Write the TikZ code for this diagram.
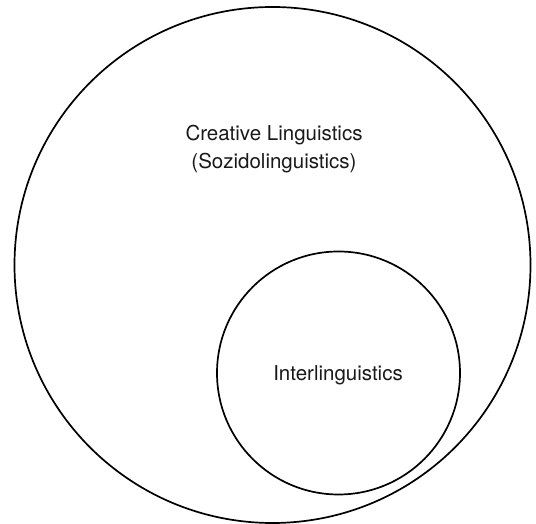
\documentclass[tikz,border=0pt]{standalone}
\usepackage{fontspec}
\setmainfont{TeX Gyre Heros}
\begin{document}
\begin{tikzpicture}[x=1pt,y=1pt,
  ring/.style={draw=black,line width=1.7pt,circle,inner sep=0pt},
  lbl/.style={font=\fontsize{20.5}{28}\selectfont,text=black!90,align=center,inner sep=0pt}]
\useasboundingbox (0,0) rectangle (536,524);
\node[ring,minimum size=516pt] (outer) at (272.5,259) {};
\node[ring,minimum size=243pt] (inner) at (338.5,151) {};
\node[lbl] (creative) at (274,375) {Creative Linguistics\\(Sozidolinguistics)};
\node[lbl] (inter) at (338,149) {Interlinguistics};
\end{tikzpicture}
\end{document}
